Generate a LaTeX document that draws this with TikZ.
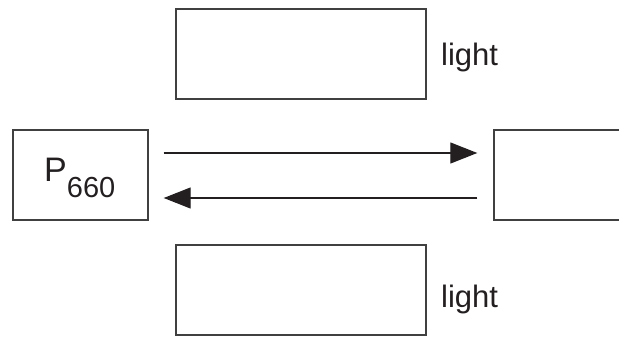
\documentclass[tikz,border=0pt]{standalone}
\usepackage{fontspec}
\setmainfont{Liberation Sans}
\usetikzlibrary{arrows.meta}
\definecolor{ink}{HTML}{231F20}
\definecolor{edge}{HTML}{404040}
\begin{document}
\begin{tikzpicture}[x=1pt,y=1pt,
  boxstyle/.style={draw=edge,line width=1.4pt,minimum width=250pt,minimum height=90pt,inner sep=0pt},
  smallbox/.style={boxstyle,minimum width=135pt},
  lbl/.style={text=ink,font=\fontsize{31}{31}\selectfont,anchor=base west,inner sep=0pt},
  conn/.style={draw=ink,line width=1.3pt,-{Triangle[length=27pt,width=21pt]}}]
\useasboundingbox (0,0) rectangle (619,343);
\clip (0,0) rectangle (619,343);
\node[boxstyle] (top) at (301,289) {};
\node[boxstyle] (bot) at (301,53) {};
\node[smallbox] (p) at (80.5,168) {};
\node[text=ink,inner sep=0pt,anchor=base west] (ptext) at (44,161) {\fontsize{34}{34}\selectfont P\raisebox{-16pt}{\fontsize{29}{29}\selectfont 660}};
\node[smallbox,minimum width=140pt] (r) at (564,168) {};
\node[lbl] (l1) at (441,277) {light};
\node[lbl] (l2) at (441,35) {light};
\draw[conn,shorten <=15pt,shorten >=16pt] ([yshift=22pt]p.east) -- ([yshift=22pt]r.west);
\draw[conn,shorten <=16pt,shorten >=15pt] ([yshift=-23pt]r.west) -- ([yshift=-23pt]p.east);
\end{tikzpicture}
\end{document}
